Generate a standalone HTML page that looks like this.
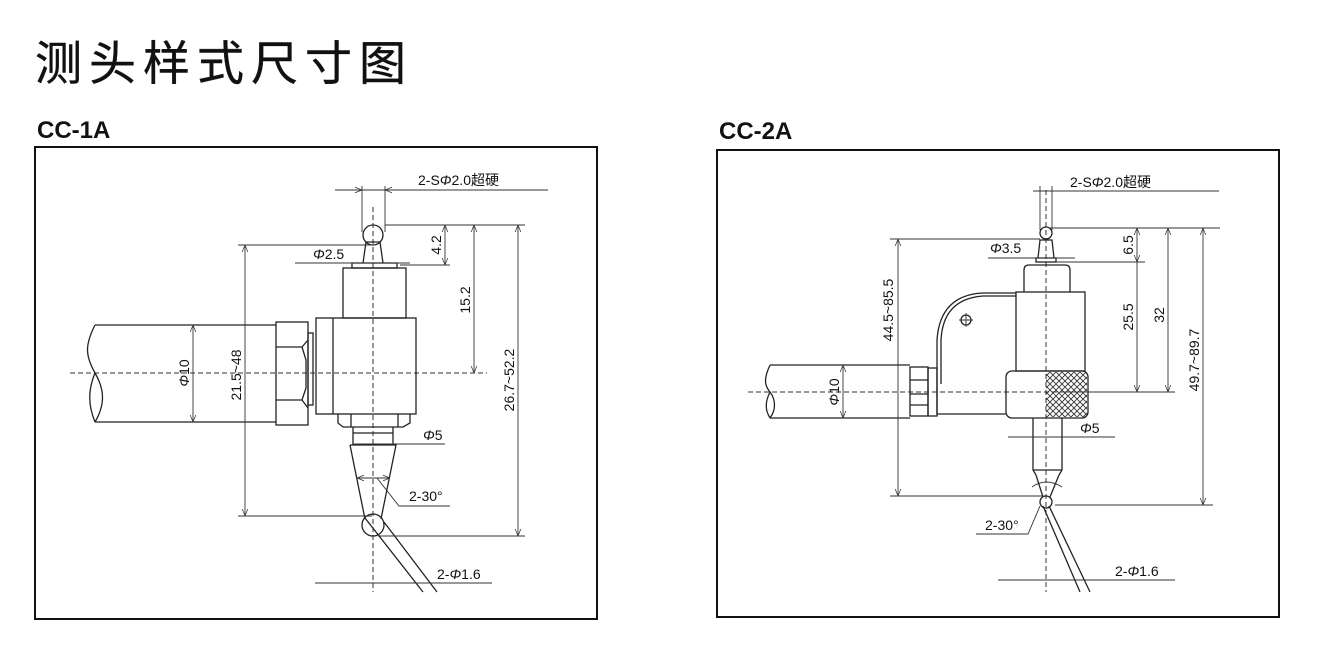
<!DOCTYPE html>
<html><head><meta charset="utf-8"><style>
html,body{margin:0;padding:0;background:#fff;}
svg{display:block;}
text{font-family:"Liberation Sans","Noto Sans CJK SC",sans-serif;fill:#111;}
.l{stroke:#222;stroke-width:1.3;fill:none;}
.t{stroke:#333;stroke-width:0.9;fill:none;}
.c{stroke:#333;stroke-width:1;fill:none;stroke-dasharray:5,3;}
.d{font-size:14px;}
</style></head><body>
<svg width="1320" height="660" viewBox="0 0 1320 660" xmlns="http://www.w3.org/2000/svg">
<defs>
<marker id="a" viewBox="0 0 10 10" refX="10" refY="5" markerWidth="8" markerHeight="8" orient="auto-start-reverse"><path d="M0,1 L10,5 L0,9" fill="none" stroke="#333" stroke-width="1"/></marker>
<pattern id="k" width="6" height="6" patternUnits="userSpaceOnUse"><path d="M0,0 L6,6 M6,0 L0,6" stroke="#333" stroke-width="0.9"/></pattern>
</defs>
<text x="35" y="80" style="font-size:47px;letter-spacing:7px;stroke:#111;stroke-width:0.4">测头样式尺寸图</text>
<text x="37" y="138" style="font-size:24px;font-weight:bold">CC-1A</text>
<text x="719" y="139" style="font-size:24px;font-weight:bold">CC-2A</text>
<rect x="35" y="147" width="562" height="472" fill="none" stroke="#111" stroke-width="2"/>
<rect x="717" y="150" width="562" height="467" fill="none" stroke="#111" stroke-width="2"/>

<!-- ===== CC-1A ===== -->
<line class="c" x1="373" y1="207" x2="373" y2="592"/>
<line class="c" x1="70" y1="373" x2="487" y2="373"/>
<path class="l" d="M95,325 L276,325 M95,422 L276,422"/>
<path class="l" d="M95,325 C85,345 85,355 95,373 C105,390 105,405 95,422 M95,373 C88,390 88,405 95,422"/>
<rect class="l" x="276" y="322" width="32" height="103"/>
<path class="l" d="M276,347 L302,347 L308,340 M276,400 L302,400 L308,408 M302,347 L306,360 L306,388 L302,400"/>
<rect class="l" x="308" y="333" width="5" height="72"/>
<rect class="l" x="316" y="318" width="100" height="96"/>
<line class="l" x1="333" y1="318" x2="333" y2="414"/>
<rect class="l" x="343" y="268" width="63" height="50"/>
<rect class="l" x="352" y="263" width="45" height="5"/>
<path class="l" d="M363,263 L366,242 L380,242 L383,263"/>
<circle class="l" cx="373" cy="235" r="10" fill="#fff"/>
<path class="l" d="M338,414 L338,423 L343,427 L403,427 L410,423 L410,414"/>
<path class="l" d="M351,414 L351,427 M398,414 L398,427"/>
<path class="l" d="M353,427 L353,445 M393,427 L393,445 M353,433 L393,433"/>
<path class="l" d="M350,445 L396,445 L381,519 M350,445 L365,519"/>
<circle class="l" cx="373" cy="525" r="11" fill="#fff"/>
<path class="l" d="M365,518 L423,592 M384,522 L437,592"/>
<line class="t" x1="335" y1="190" x2="548" y2="190"/>
<line class="t" x1="362" y1="186" x2="362" y2="232"/>
<line class="t" x1="385" y1="186" x2="385" y2="232"/>
<line class="t" x1="345" y1="190" x2="362" y2="190" marker-end="url(#a)"/>
<line class="t" x1="400" y1="190" x2="385" y2="190" marker-end="url(#a)"/>
<text class="d" x="418" y="185">2-S<tspan font-style="italic">Φ</tspan>2.0超硬</text>
<line class="t" x1="295" y1="263" x2="410" y2="263"/>
<text class="d" x="313" y="259"><tspan font-style="italic">Φ</tspan>2.5</text>
<line class="t" x1="385" y1="225" x2="525" y2="225"/>
<line class="t" x1="400" y1="265" x2="450" y2="265"/>
<line class="t" x1="445" y1="225" x2="445" y2="265" marker-start="url(#a)" marker-end="url(#a)"/>
<text class="d" transform="translate(441,245) rotate(-90)" text-anchor="middle">4.2</text>
<line class="t" x1="474" y1="225" x2="474" y2="373" marker-start="url(#a)" marker-end="url(#a)"/>
<text class="d" transform="translate(470,300) rotate(-90)" text-anchor="middle">15.2</text>
<line class="t" x1="518" y1="225" x2="518" y2="536" marker-start="url(#a)" marker-end="url(#a)"/>
<line class="t" x1="378" y1="536" x2="525" y2="536"/>
<text class="d" transform="translate(514,380) rotate(-90)" text-anchor="middle">26.7~52.2</text>
<line class="t" x1="238" y1="245" x2="372" y2="245"/>
<line class="t" x1="238" y1="516" x2="372" y2="516"/>
<line class="t" x1="245" y1="245" x2="245" y2="516" marker-start="url(#a)" marker-end="url(#a)"/>
<text class="d" transform="translate(241,375) rotate(-90)" text-anchor="middle">21.5~48</text>
<line class="t" x1="193" y1="325" x2="193" y2="422" marker-start="url(#a)" marker-end="url(#a)"/>
<text class="d" transform="translate(189,373) rotate(-90)" text-anchor="middle"><tspan font-style="italic">Φ</tspan>10</text>
<line class="t" x1="353" y1="444" x2="445" y2="444"/>
<text class="d" x="423" y="440"><tspan font-style="italic">Φ</tspan>5</text>
<line class="t" x1="357" y1="478" x2="390" y2="478" marker-start="url(#a)" marker-end="url(#a)"/>
<path class="t" d="M377,478 L399,506 L450,506"/>
<text class="d" x="409" y="501">2-30°</text>
<line class="t" x1="315" y1="583" x2="492" y2="583"/>
<text class="d" x="437" y="579">2-<tspan font-style="italic">Φ</tspan>1.6</text>

<!-- ===== CC-2A ===== -->
<line class="c" x1="1046" y1="190" x2="1046" y2="592"/>
<line class="c" x1="748" y1="392" x2="1175" y2="392"/>
<path class="l" d="M770,365 L910,365 M770,418 L910,418"/>
<path class="l" d="M770,365 C764,378 764,385 770,392 C776,400 776,410 770,418 M770,392 C765,402 765,410 770,418"/>
<rect class="l" x="910" y="367" width="18" height="49"/>
<path class="l" d="M910,380 L928,380 M910,394 L928,394 M910,405 L928,405"/>
<rect class="l" x="928" y="368" width="9" height="48"/>
<path class="l" d="M1016,293 L983,293 Q940,295 937,340 L937,384"/>
<path class="l" d="M1016,296 L983,296 Q943,299 941,340 L941,384"/>
<path class="l" d="M937,384 L937,414 L1006,414"/>
<circle class="l" cx="966" cy="320" r="5"/>
<path class="t" d="M959,320 L973,320 M966,313 L966,327"/>
<rect class="l" x="1016" y="292" width="69" height="79" fill="#fff"/>
<path class="l" d="M1024,292 L1024,270 Q1024,265 1029,265 L1065,265 Q1070,265 1070,270 L1070,292"/>
<rect class="l" x="1036" y="258" width="20" height="4"/>
<path class="l" d="M1038,258 L1040,240 L1052,240 L1054,258"/>
<circle class="l" cx="1046" cy="233" r="6" fill="#fff"/>
<rect class="l" x="1006" y="371" width="82" height="47" rx="6" fill="#fff"/>
<rect x="1046" y="372" width="41" height="45" fill="url(#k)"/>
<path class="l" d="M1033,418 L1033,470 L1036,475 M1062,418 L1062,470 L1059,475 M1033,470 L1062,470"/>
<path class="l" d="M1036,475 L1043,497 M1059,475 L1050,497"/>
<circle class="l" cx="1046" cy="502" r="6" fill="#fff"/>
<path class="l" d="M1043,506 L1080,592 M1049,506 L1090,592"/>
<line class="t" x1="1033" y1="191" x2="1219" y2="191"/>
<line class="t" x1="1040" y1="186" x2="1040" y2="230"/>
<line class="t" x1="1052" y1="186" x2="1052" y2="230"/>
<text class="d" x="1070" y="187">2-S<tspan font-style="italic">Φ</tspan>2.0超硬</text>
<line class="t" x1="988" y1="258" x2="1075" y2="258"/>
<text class="d" x="990" y="253"><tspan font-style="italic">Φ</tspan>3.5</text>
<line class="t" x1="1050" y1="228" x2="1220" y2="228"/>
<line class="t" x1="1056" y1="262" x2="1145" y2="262"/>
<line class="t" x1="1060" y1="392" x2="1175" y2="392"/>
<line class="t" x1="1137" y1="228" x2="1137" y2="262" marker-start="url(#a)" marker-end="url(#a)"/>
<line class="t" x1="1137" y1="262" x2="1137" y2="392" marker-end="url(#a)"/>
<text class="d" transform="translate(1133,245) rotate(-90)" text-anchor="middle">6.5</text>
<text class="d" transform="translate(1133,317) rotate(-90)" text-anchor="middle">25.5</text>
<line class="t" x1="1168" y1="228" x2="1168" y2="392" marker-start="url(#a)" marker-end="url(#a)"/>
<text class="d" transform="translate(1164,315) rotate(-90)" text-anchor="middle">32</text>
<line class="t" x1="1203" y1="228" x2="1203" y2="505" marker-start="url(#a)" marker-end="url(#a)"/>
<line class="t" x1="1055" y1="505" x2="1213" y2="505"/>
<text class="d" transform="translate(1199,360) rotate(-90)" text-anchor="middle">49.7~89.7</text>
<line class="t" x1="890" y1="239" x2="1040" y2="239"/>
<line class="t" x1="890" y1="496" x2="1045" y2="496"/>
<line class="t" x1="898" y1="239" x2="898" y2="496" marker-start="url(#a)" marker-end="url(#a)"/>
<text class="d" transform="translate(893,310) rotate(-90)" text-anchor="middle">44.5~85.5</text>
<line class="t" x1="843" y1="365" x2="843" y2="418" marker-start="url(#a)" marker-end="url(#a)"/>
<text class="d" transform="translate(839,392) rotate(-90)" text-anchor="middle"><tspan font-style="italic">Φ</tspan>10</text>
<line class="t" x1="1008" y1="437" x2="1115" y2="437"/>
<text class="d" x="1080" y="433"><tspan font-style="italic">Φ</tspan>5</text>
<path class="t" d="M1032,487 Q1046,477 1062,487"/>
<path class="t" d="M976,534 L1028,534 L1040,506"/>
<text class="d" x="985" y="530">2-30°</text>
<line class="t" x1="998" y1="580" x2="1175" y2="580"/>
<text class="d" x="1115" y="576">2-<tspan font-style="italic">Φ</tspan>1.6</text>
</svg>
</body></html>
